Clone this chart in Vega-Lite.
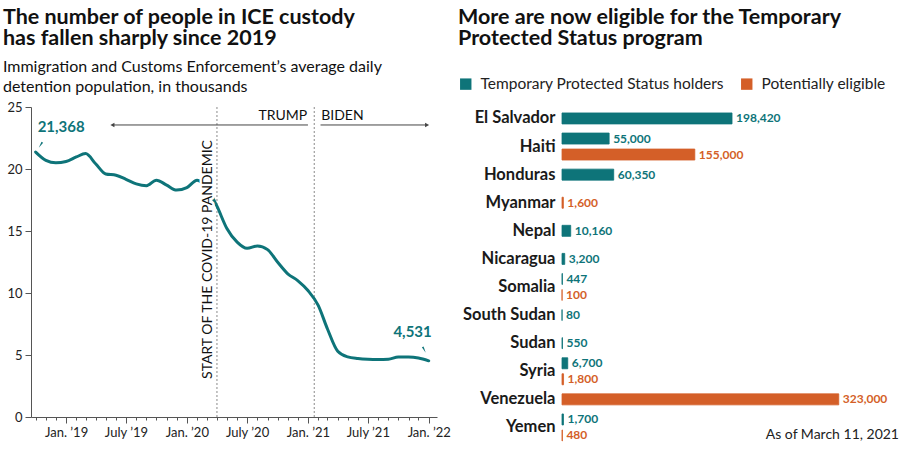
{
  "$schema": "https://vega.github.io/schema/vega-lite/v6.json",
  "background": "white",
  "padding": {"left": 2, "top": 6, "right": 2, "bottom": 2},
  "spacing": 7,
  "resolve": {"scale": {"color": "independent", "stroke": "independent"}},
  "config": {
    "font": "Lato",
    "view": {"stroke": null},
    "axis": {"labelFont": "Lato", "titleFont": "Lato"},
    "legend": {"labelFont": "Lato"},
    "title": {"font": "Lato", "subtitleFont": "Lato"}
  },
  "datasets": {
    "detention": [
      {"date": "2018-10-01", "thousands": 21.368},
      {"date": "2018-11-01", "thousands": 20.7},
      {"date": "2018-12-01", "thousands": 20.5},
      {"date": "2019-01-01", "thousands": 20.6},
      {"date": "2019-02-01", "thousands": 20.97},
      {"date": "2019-03-01", "thousands": 21.24},
      {"date": "2019-04-01", "thousands": 20.4},
      {"date": "2019-05-01", "thousands": 19.6},
      {"date": "2019-06-01", "thousands": 19.5},
      {"date": "2019-07-01", "thousands": 19.17},
      {"date": "2019-08-01", "thousands": 18.8},
      {"date": "2019-09-01", "thousands": 18.65},
      {"date": "2019-10-01", "thousands": 19.1},
      {"date": "2019-11-01", "thousands": 18.7},
      {"date": "2019-12-01", "thousands": 18.3},
      {"date": "2020-01-01", "thousands": 18.5},
      {"date": "2020-02-01", "thousands": 19.1},
      {"date": "2020-03-01", "thousands": 18.5},
      {"date": "2020-04-01", "thousands": 17.0},
      {"date": "2020-05-01", "thousands": 15.2},
      {"date": "2020-06-01", "thousands": 14.1},
      {"date": "2020-07-01", "thousands": 13.6},
      {"date": "2020-08-01", "thousands": 13.8},
      {"date": "2020-09-01", "thousands": 13.5},
      {"date": "2020-10-01", "thousands": 12.5},
      {"date": "2020-11-01", "thousands": 11.55},
      {"date": "2020-12-01", "thousands": 11.0},
      {"date": "2021-01-01", "thousands": 10.2},
      {"date": "2021-02-01", "thousands": 9.0},
      {"date": "2021-03-01", "thousands": 7.1},
      {"date": "2021-04-01", "thousands": 5.3},
      {"date": "2021-05-01", "thousands": 4.85},
      {"date": "2021-06-01", "thousands": 4.72},
      {"date": "2021-07-01", "thousands": 4.66},
      {"date": "2021-08-01", "thousands": 4.64},
      {"date": "2021-09-01", "thousands": 4.66},
      {"date": "2021-10-01", "thousands": 4.84},
      {"date": "2021-11-01", "thousands": 4.84},
      {"date": "2021-12-01", "thousands": 4.76},
      {"date": "2022-01-01", "thousands": 4.531}
    ],
    "tps": [
      {"country": "El Salvador", "status": "Temporary Protected Status holders", "people": 198420},
      {"country": "Haiti", "status": "Temporary Protected Status holders", "people": 55000},
      {"country": "Haiti", "status": "Potentially eligible", "people": 155000},
      {"country": "Honduras", "status": "Temporary Protected Status holders", "people": 60350},
      {"country": "Myanmar", "status": "Potentially eligible", "people": 1600},
      {"country": "Nepal", "status": "Temporary Protected Status holders", "people": 10160},
      {"country": "Nicaragua", "status": "Temporary Protected Status holders", "people": 3200},
      {"country": "Somalia", "status": "Temporary Protected Status holders", "people": 447},
      {"country": "Somalia", "status": "Potentially eligible", "people": 100},
      {"country": "South Sudan", "status": "Temporary Protected Status holders", "people": 80},
      {"country": "Sudan", "status": "Temporary Protected Status holders", "people": 550},
      {"country": "Syria", "status": "Temporary Protected Status holders", "people": 6700},
      {"country": "Syria", "status": "Potentially eligible", "people": 1800},
      {"country": "Venezuela", "status": "Potentially eligible", "people": 323000},
      {"country": "Yemen", "status": "Temporary Protected Status holders", "people": 1700},
      {"country": "Yemen", "status": "Potentially eligible", "people": 480}
    ]
  },
  "hconcat": [
    {
      "width": 406,
      "height": 310,
      "title": {
        "text": ["The number of people in ICE custody", "has fallen sharply since 2019"],
        "subtitle": ["Immigration and Customs Enforcement’s average daily", "detention population, in thousands"],
        "anchor": "start",
        "frame": "bounds",
        "dx": -4,
        "fontSize": 21.5,
        "fontWeight": "bold",
        "color": "#111111",
        "lineHeight": 21,
        "subtitleFontSize": 16,
        "subtitleColor": "#111111",
        "subtitleLineHeight": 20,
        "subtitlePadding": 10,
        "offset": 6
      },
      "layer": [
        {
          "data": {"values": [{"date": "2020-04-01"}, {"date": "2021-01-20"}]},
          "mark": {"type": "rule", "color": "#8a8a8a", "strokeDash": [2, 2], "strokeWidth": 1},
          "encoding": {"x": {"field": "date", "type": "temporal"}}
        },
        {
          "data": {"name": "detention"},
          "mark": {"type": "line", "color": "#0e7479", "strokeWidth": 3, "interpolate": "monotone", "strokeCap": "round", "strokeJoin": "round"},
          "encoding": {
            "x": {
              "field": "date",
              "type": "temporal",
              "scale": {"type": "utc", "domain": [{"year": 2018, "month": 9, "date": 17, "utc": true}, {"year": 2022, "month": 1, "date": 26, "utc": true}]},
              "axis": {
                "title": null,
                "grid": false,
                "tickCount": {"interval": "month", "step": 1},
                "labelExpr": "utcmonth(datum.value) == 0 ? 'Jan. ’' + utcFormat(datum.value, '%y') : (utcmonth(datum.value) == 6 ? 'July ’' + utcFormat(datum.value, '%y') : '')",
                "tickSize": {"condition": {"test": "utcmonth(datum.value) % 6 == 0", "value": 6}, "value": 3},
                "labelOverlap": false,
                "labelFlush": false,
                "domainColor": "#555555",
                "tickColor": "#555555",
                "labelFontSize": 13,
                "labelColor": "#222222",
                "labelPadding": 3
              }
            },
            "y": {
              "field": "thousands",
              "type": "quantitative",
              "scale": {"domain": [0, 25], "nice": false},
              "axis": {
                "title": null,
                "grid": false,
                "values": [0, 5, 10, 15, 20, 25],
                "tickSize": 6,
                "domainColor": "#555555",
                "tickColor": "#555555",
                "labelFontSize": 13,
                "labelColor": "#222222",
                "labelPadding": 3
              }
            }
          }
        },
        {
          "data": {"values": [{"date": "2020-03-06", "note": "START OF THE COVID-19 PANDEMIC"}]},
          "mark": {"type": "text", "angle": 270, "align": "center", "baseline": "middle", "fontSize": 14, "color": "white", "stroke": "white", "strokeWidth": 5, "strokeJoin": "round"},
          "encoding": {
            "x": {"field": "date", "type": "temporal"},
            "y": {"datum": 12.7, "type": "quantitative"},
            "text": {"field": "note"}
          }
        },
        {
          "data": {"values": [{"date": "2020-03-06", "note": "START OF THE COVID-19 PANDEMIC"}]},
          "mark": {"type": "text", "angle": 270, "align": "center", "baseline": "middle", "fontSize": 14, "color": "#111111"},
          "encoding": {
            "x": {"field": "date", "type": "temporal"},
            "y": {"datum": 12.7, "type": "quantitative"},
            "text": {"field": "note"}
          }
        },
        {
          "data": {"values": [{"date": "2021-01-20", "note": "TRUMP"}]},
          "mark": {"type": "text", "align": "right", "baseline": "middle", "dx": -7, "fontSize": 14, "color": "#111111"},
          "encoding": {
            "x": {"field": "date", "type": "temporal"},
            "y": {"datum": 24.3, "type": "quantitative"},
            "text": {"field": "note"}
          }
        },
        {
          "data": {"values": [{"date": "2021-01-20", "note": "BIDEN"}]},
          "mark": {"type": "text", "align": "left", "baseline": "middle", "dx": 7, "fontSize": 14, "color": "#111111"},
          "encoding": {
            "x": {"field": "date", "type": "temporal"},
            "y": {"datum": 24.3, "type": "quantitative"},
            "text": {"field": "note"}
          }
        },
        {
          "data": {"values": [{"date": "2019-05-21", "end": "2021-01-01"}, {"date": "2021-02-08", "end": "2021-12-27"}]},
          "mark": {"type": "rule", "color": "#444444", "strokeWidth": 1},
          "encoding": {
            "x": {"field": "date", "type": "temporal"},
            "x2": {"field": "end"},
            "y": {"datum": 23.55, "type": "quantitative"}
          }
        },
        {
          "data": {"values": [{"date": "2019-05-21"}]},
          "mark": {"type": "point", "shape": "triangle-left", "filled": true, "size": 22, "color": "#444444", "opacity": 1},
          "encoding": {
            "x": {"field": "date", "type": "temporal"},
            "y": {"datum": 23.55, "type": "quantitative"}
          }
        },
        {
          "data": {"values": [{"date": "2021-12-27"}]},
          "mark": {"type": "point", "shape": "triangle-right", "filled": true, "size": 22, "color": "#444444", "opacity": 1},
          "encoding": {
            "x": {"field": "date", "type": "temporal"},
            "y": {"datum": 23.55, "type": "quantitative"}
          }
        },
        {
          "data": {"name": "detention"},
          "transform": [{"filter": "datum.thousands == 21.368"}],
          "mark": {"type": "text", "align": "left", "baseline": "middle", "dx": 2, "dy": -25, "fontSize": 15, "fontWeight": "bold", "color": "#0e7479"},
          "encoding": {
            "x": {"field": "date", "type": "temporal"},
            "y": {"field": "thousands", "type": "quantitative"},
            "text": {"value": "21,368"}
          }
        },
        {
          "data": {"name": "detention"},
          "transform": [{"filter": "datum.thousands == 21.368"}],
          "mark": {"type": "point", "shape": "wedge", "filled": true, "size": 60, "angle": 212, "xOffset": 5.5, "yOffset": -8, "color": "#0e7479", "opacity": 1},
          "encoding": {
            "x": {"field": "date", "type": "temporal"},
            "y": {"field": "thousands", "type": "quantitative"}
          }
        },
        {
          "data": {"name": "detention"},
          "transform": [{"filter": "datum.thousands == 4.531"}],
          "mark": {"type": "text", "align": "right", "baseline": "middle", "dx": 3, "dy": -29, "fontSize": 15, "fontWeight": "bold", "color": "#0e7479"},
          "encoding": {
            "x": {"field": "date", "type": "temporal"},
            "y": {"field": "thousands", "type": "quantitative"},
            "text": {"value": "4,531"}
          }
        },
        {
          "data": {"name": "detention"},
          "transform": [{"filter": "datum.thousands == 4.531"}],
          "mark": {"type": "point", "shape": "wedge", "filled": true, "size": 60, "angle": 153, "xOffset": -5, "yOffset": -12, "color": "#0e7479", "opacity": 1},
          "encoding": {
            "x": {"field": "date", "type": "temporal"},
            "y": {"field": "thousands", "type": "quantitative"}
          }
        }
      ]
    },
    {
      "width": 337,
      "height": 337,
      "title": {
        "text": ["More are now eligible for the Temporary", "Protected Status program"],
        "anchor": "start",
        "frame": "bounds",
        "fontSize": 21.5,
        "fontWeight": "bold",
        "color": "#111111",
        "lineHeight": 21,
        "offset": 27
      },
      "layer": [
        {
          "data": {"name": "tps"},
          "transform": [
            {"joinaggregate": [{"op": "count", "as": "n"}], "groupby": ["country"]},
            {"calculate": "datum.n == 1 ? 'mid' : datum.status", "as": "slot"}
          ],
          "mark": {"type": "bar", "height": 11, "strokeWidth": 0.8},
          "encoding": {
            "y": {
              "field": "country",
              "type": "nominal",
              "sort": null,
              "scale": {
                "domain": ["El Salvador", "Haiti", "Honduras", "Myanmar", "Nepal", "Nicaragua", "Somalia", "South Sudan", "Sudan", "Syria", "Venezuela", "Yemen"],
                "range": [-2.6, 334.5],
                "paddingInner": 0,
                "paddingOuter": 0
              },
              "axis": {
                "title": null,
                "domain": false,
                "ticks": false,
                "labelFontSize": 16.5,
                "labelFontWeight": "bold",
                "labelColor": "#1a1a1a",
                "labelPadding": 7
              }
            },
            "yOffset": {
              "field": "slot",
              "type": "nominal",
              "scale": {"domain": ["Temporary Protected Status holders", "mid", "Potentially eligible"], "paddingInner": 0, "paddingOuter": 0.256}
            },
            "x": {"field": "people", "type": "quantitative", "scale": {"domain": [0, 393300], "nice": false}, "axis": null},
            "color": {
              "field": "status",
              "type": "nominal",
              "scale": {"domain": ["Temporary Protected Status holders", "Potentially eligible"], "range": ["#0e7479", "#d45f28"]},
              "legend": {
                "title": null,
                "orient": "none",
                "legendX": -104,
                "legendY": -31,
                "direction": "horizontal",
                "symbolType": "square",
                "symbolSize": 130,
                "symbolStrokeWidth": 0,
                "labelFontSize": 15.5,
                "labelLimit": 400,
                "labelColor": "#222222",
                "labelOffset": 7,
                "columnPadding": 15
              }
            },
            "stroke": {
              "field": "status",
              "type": "nominal",
              "scale": {"domain": ["Temporary Protected Status holders", "Potentially eligible"], "range": ["#0e7479", "#d45f28"]},
              "legend": null
            }
          }
        },
        {
          "data": {"name": "tps"},
          "transform": [
            {"joinaggregate": [{"op": "count", "as": "n"}], "groupby": ["country"]},
            {"calculate": "datum.n == 1 ? 'mid' : datum.status", "as": "slot"}
          ],
          "mark": {"type": "text", "align": "left", "baseline": "middle", "dx": 4, "fontSize": 12, "fontWeight": "bold"},
          "encoding": {
            "y": {"field": "country", "type": "nominal", "sort": null},
            "yOffset": {"field": "slot", "type": "nominal"},
            "x": {"field": "people", "type": "quantitative"},
            "text": {"field": "people", "type": "quantitative", "format": ","},
            "color": {"field": "status", "type": "nominal"}
          }
        },
        {
          "data": {"values": [{"note": "As of March 11, 2021"}]},
          "mark": {"type": "text", "align": "right", "baseline": "middle", "dy": 8, "fontSize": 14, "color": "#222222"},
          "encoding": {
            "x": {"datum": 393300, "type": "quantitative"},
            "y": {"datum": "Yemen", "type": "nominal"},
            "text": {"field": "note"}
          }
        }
      ]
    }
  ]
}
